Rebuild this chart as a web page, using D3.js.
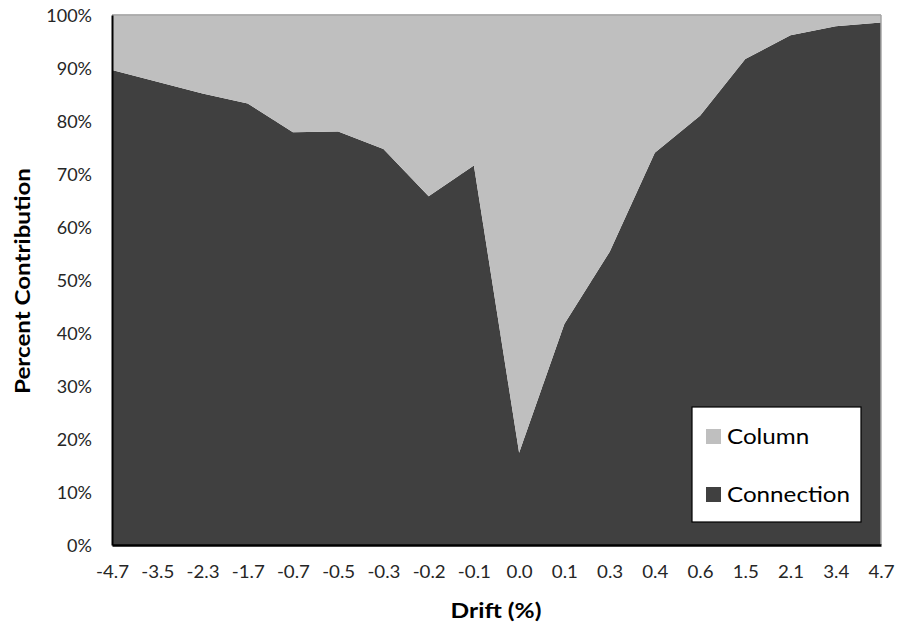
<!DOCTYPE html>
<html><head><meta charset="utf-8">
<script src="https://cdn.jsdelivr.net/npm/d3@7/dist/d3.min.js"></script>
<style>body{margin:0;background:#fff}svg{display:block}</style>
</head><body>
<svg id="chart" width="899" height="625"></svg>
<script>
const categories = ["-4.7","-3.5","-2.3","-1.7","-0.7","-0.5","-0.3","-0.2","-0.1","0.0","0.1","0.3","0.4","0.6","1.5","2.1","3.4","4.7"];
const connection = [89.6,87.4,85.2,83.3,77.9,78.0,74.7,65.8,71.6,17.4,41.7,55.3,74.0,81.0,91.7,96.2,97.9,98.6];
const column = connection.map(v => +(100 - v).toFixed(1));
const yTicks = [0,10,20,30,40,50,60,70,80,90,100];
const seriesNames = ["Column","Connection"];
const colors = {Column:"#bfbfbf", Connection:"#404040"};

const svg = d3.select("#chart");
const m = {left:112, right:899-881, top:15, bottom:625-545};
const W = 899 - m.left - m.right, H = 625 - m.top - m.bottom;
const g = svg.append("g").attr("transform",`translate(${m.left},${m.top})`);
const font = "Lato, 'Open Sans', sans-serif";
const SX = 1.1;

const x = d3.scalePoint().domain(categories).range([0,W]);
const y = d3.scaleLinear().domain([0,100]).range([H,0]);

const rows = categories.map((c,i)=>({cat:c, Connection:connection[i], Column:column[i]}));
const stack = d3.stack().keys(["Connection","Column"])(rows);
const area = d3.area().x(d=>x(d.data.cat)).y0(d=>y(d[0])).y1(d=>y(d[1]));

// gridlines (hidden behind areas mostly)
g.append("g").selectAll("line").data(yTicks).join("line")
  .attr("x1",0).attr("x2",W).attr("y1",d=>y(d)).attr("y2",d=>y(d))
  .attr("stroke","#a6a6a6").attr("stroke-width",1);

g.selectAll("path.area").data(stack).join("path").attr("class","area")
  .attr("d",area).attr("fill",d=>colors[d.key]);

// plot border top/right
g.append("line").attr("x1",0).attr("x2",W).attr("y1",0).attr("y2",0).attr("stroke","#a6a6a6").attr("stroke-width",1.5);
g.append("line").attr("x1",W).attr("x2",W).attr("y1",0).attr("y2",H).attr("stroke","#a6a6a6").attr("stroke-width",1.5);

// axes
const yAxis = g.append("g").call(d3.axisLeft(y).tickValues(yTicks).tickFormat(d=>d+"%").tickSize(0).tickPadding(0));
yAxis.select(".domain").attr("stroke","#000").attr("stroke-width",2);
yAxis.selectAll("text").attr("font-family",font).attr("font-size",17).attr("fill","#262626")
  .attr("x",-20/1.06).attr("dy","0.36em").attr("transform","scale(1.06,1)");

const xAxis = g.append("g").attr("transform",`translate(0,${H})`)
  .call(d3.axisBottom(x).tickSize(0).tickPadding(0));
xAxis.select(".domain").attr("stroke","#000").attr("stroke-width",2.5);
xAxis.selectAll("text").attr("font-family",font).attr("font-size",17).attr("fill","#262626")
  .attr("y",33).attr("dy",0).attr("transform",`scale(${SX},1)`);

// axis titles
svg.append("text").attr("transform","translate(30,281) rotate(-90) scale(1.15,1)")
  .attr("text-anchor","middle").attr("font-family",font).attr("font-weight","bold")
  .attr("font-size",21).attr("fill","#000").text("Percent Contribution");
svg.append("text").attr("transform","translate(496,618) scale(1.17,1)").attr("text-anchor","middle")
  .attr("font-family",font).attr("font-weight","bold").attr("font-size",21).attr("fill","#000").text("Drift (%)");

// legend
const lg = svg.append("g").attr("transform","translate(692,407)");
lg.append("rect").attr("width",169).attr("height",115).attr("fill","#fff").attr("stroke","#000").attr("stroke-width",1.2);
seriesNames.forEach((n,i)=>{
  const yy = 29 + i*58;
  lg.append("rect").attr("x",14).attr("y",yy-7).attr("width",15).attr("height",15).attr("fill",colors[n]);
  lg.append("text").attr("transform",`translate(35,${yy}) scale(1.1,1)`).attr("dy","0.38em").attr("font-family",font)
    .attr("font-size",22).attr("fill","#000").text(n);
});
</script>
</body></html>
